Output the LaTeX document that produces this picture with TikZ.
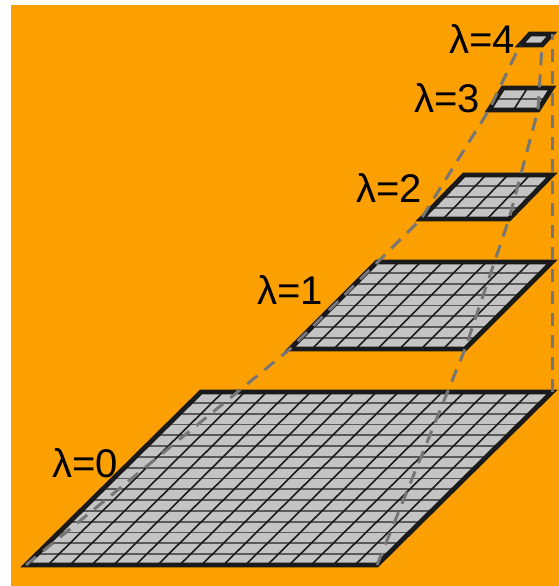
\documentclass[tikz,border=0pt]{standalone}
\usepackage{fontspec}
\setmainfont{Liberation Sans}
\usetikzlibrary{calc}
\definecolor{bgorange}{RGB}{251,160,0}
\definecolor{cellgray}{RGB}{196,196,196}
\definecolor{hgray}{RGB}{90,90,90}
\definecolor{edgeblack}{RGB}{26,26,26}
\definecolor{dashgray}{RGB}{118,118,118}
\tikzset{
  cellfill/.style={fill=cellgray},
  hline/.style={draw=hgray,line width=1.8pt},
  dline/.style={draw=edgeblack,line width=1.6pt},
  border/.style={draw=edgeblack,line width=4.8pt,line join=miter},
  guide/.style={draw=dashgray,line width=3pt,dash pattern=on 13pt off 9pt},
  lab/.style={anchor=base west,inner sep=0pt,font=\fontsize{40}{44}\selectfont}
}
% #1 name, #2 x of top-left, #3 y of top, #4 width, #5 height, #6 shear, #7 cells
\newcommand{\pyrlevel}[7]{%
  \coordinate (#1tl) at (#2,#3);
  \coordinate (#1tr) at ({#2+#4},#3);
  \coordinate (#1bl) at ({#2-#6},{#3+#5});
  \coordinate (#1br) at ({#2+#4-#6},{#3+#5});
  \fill[cellfill] (#1tl) -- (#1tr) -- (#1br) -- (#1bl) -- cycle;
  \pgfmathtruncatemacro\nmone{#7-1}%
  \ifnum\nmone>0
    \foreach \i in {1,...,\nmone}{
      \draw[hline] ($(#1tl)!\i/#7!(#1bl)$) -- ($(#1tr)!\i/#7!(#1br)$);
    }
    \foreach \i in {1,...,\nmone}{
      \draw[dline] ($(#1tl)!\i/#7!(#1tr)$) -- ($(#1bl)!\i/#7!(#1br)$);
    }
  \fi
  \draw[border] (#1tl) -- (#1tr) -- (#1br) -- (#1bl) -- cycle;
}
\begin{document}
\begin{tikzpicture}[x=1pt,y=-1pt]
  \useasboundingbox (0,0) rectangle (559,586);
  \fill[bgorange] (11,5) rectangle (559,586);
  \pyrlevel{a}{201}{392}{351}{173}{175}{16}
  \pyrlevel{b}{377}{262}{175}{87}{87}{8}
  \pyrlevel{c}{464}{175}{88}{44}{43}{4}
  \pyrlevel{d}{503}{88}{49}{22}{14}{2}
  \pyrlevel{e}{530}{34}{22}{11}{10}{1}
  \draw[guide] (abl) -- (bbl) -- (cbl) -- (dbl) -- (ebl);
  \draw[guide] (abr) -- (bbr) -- (cbr) -- (dbr) -- (ebr);
  \draw[guide] (atr) -- (etr);
  \node[lab] (l0) at (52,477) {λ=0};
  \node[lab] (l1) at (257,304) {λ=1};
  \node[lab] (l2) at (356,202) {λ=2};
  \node[lab] (l3) at (414,112) {λ=3};
  \node[lab] (l4) at (449,53) {λ=4};
\end{tikzpicture}
\end{document}
